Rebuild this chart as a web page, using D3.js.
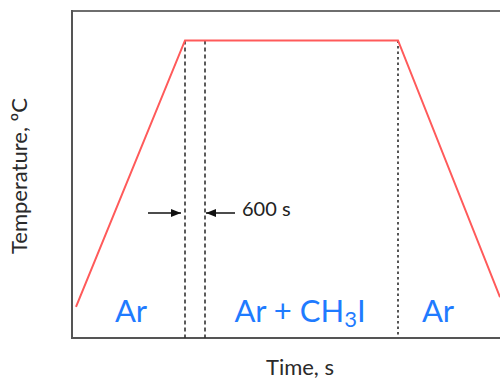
<!DOCTYPE html>
<html>
<head>
<meta charset="utf-8">
<script src="https://cdn.jsdelivr.net/npm/d3@7"></script>
<style>
html,body{margin:0;padding:0;background:#fff;}
svg{display:block;}
</style>
</head>
<body>
<script>
// Data (time in s, temperature in arbitrary relative units)
const profileTime = [120, 3390, 9780, 12840];
const profileTemp = [9.5, 91, 91, 12.5];
const holdTimes = [3390, 3990];
const switchTime = [9780];
const gasLabels = ["Ar", "Ar + CH3I", "Ar"];
const gasLabelTimes = [1770, 6840, 10980];
const holdLabel = "600 s";
const xTitle = "Time, s";
const yTitle = "Temperature, ºC";

const W = 500, H = 381;
const svg = d3.select("body").append("svg").attr("width", W).attr("height", H);

const x = d3.scaleLinear().domain([0, 12840]).range([72, 500]);
const y = d3.scaleLinear().domain([0, 100]).range([338, 11]);

const font = "Lato, 'Open Sans', sans-serif";

// frame
svg.append("line").attr("x1", x(0)).attr("x2", W).attr("y1", y(100)).attr("y2", y(100))
  .attr("stroke", "#6e6e6e").attr("stroke-width", 2);
svg.append("line").attr("x1", x(0)).attr("x2", x(0)).attr("y1", y(100)-1).attr("y2", y(0)+1)
  .attr("stroke", "#555").attr("stroke-width", 2);
svg.append("line").attr("x1", x(0)).attr("x2", W).attr("y1", y(0)).attr("y2", y(0))
  .attr("stroke", "#555").attr("stroke-width", 2);

// dashed hold lines
svg.selectAll("line.hold").data(holdTimes).join("line").attr("class", "hold")
  .attr("x1", d => x(d)).attr("x2", d => x(d))
  .attr("y1", y(91)).attr("y2", y(0))
  .attr("stroke", "#333").attr("stroke-width", 1.6).attr("stroke-dasharray", "4,3");
svg.selectAll("line.sw").data(switchTime).join("line").attr("class", "sw")
  .attr("x1", d => x(d)).attr("x2", d => x(d))
  .attr("y1", y(91)).attr("y2", y(0))
  .attr("stroke", "#555").attr("stroke-width", 2).attr("stroke-dasharray", "2.5,3");

// temperature profile
const line = d3.line().x((d, i) => x(profileTime[i])).y(d => y(d));
svg.append("path").datum(profileTemp).attr("d", line)
  .attr("fill", "none").attr("stroke", "#ff5a5a").attr("stroke-width", 2);

// arrows
const defs = svg.append("defs");
defs.append("marker").attr("id", "ah").attr("viewBox", "0 0 10 10")
  .attr("refX", 10).attr("refY", 5).attr("markerWidth", 10).attr("markerHeight", 10)
  .attr("markerUnits", "userSpaceOnUse").attr("orient", "auto")
  .append("path").attr("d", "M0,1 L10,5 L0,9 Z").attr("fill", "#111");
const ay = 213;
svg.append("line").attr("x1", x(holdTimes[0]) - 37).attr("x2", x(holdTimes[0]) - 4)
  .attr("y1", ay).attr("y2", ay).attr("stroke", "#111").attr("stroke-width", 1.5)
  .attr("marker-end", "url(#ah)");
svg.append("line").attr("x1", x(holdTimes[1]) + 30).attr("x2", x(holdTimes[1]) + 1)
  .attr("y1", ay).attr("y2", ay).attr("stroke", "#111").attr("stroke-width", 1.5)
  .attr("marker-end", "url(#ah)");
svg.append("text").attr("x", x(holdTimes[1]) + 37).attr("y", ay + 3)
  .attr("font-family", font).attr("font-size", 20).attr("fill", "#222").text(holdLabel);

// gas labels
svg.selectAll("text.gas").data(gasLabels).join("text").attr("class", "gas")
  .attr("x", (d, i) => x(gasLabelTimes[i])).attr("y", 322)
  .attr("text-anchor", "middle").attr("font-family", font).attr("font-size", 31)
  .attr("fill", "#1f7bff")
  .each(function(d) {
    const t = d3.select(this);
    const m = d.match(/^(.*CH)3(I)$/);
    if (m) {
      t.append("tspan").text(m[1]);
      t.append("tspan").attr("font-size", 22).attr("dy", 5).text("3");
      t.append("tspan").attr("dy", -5).text(m[2]);
    } else t.text(d);
  });

// axis titles
svg.append("text").attr("x", 300).attr("y", 375).attr("text-anchor", "middle")
  .attr("font-family", font).attr("font-size", 22)
  .attr("fill", "#2a2a2a").text(xTitle);
svg.append("text").attr("transform", "translate(27,176) rotate(-90)").attr("text-anchor", "middle")
  .attr("font-family", font).attr("font-size", 22)
  .attr("fill", "#2a2a2a").text(yTitle);
</script>
</body>
</html>
